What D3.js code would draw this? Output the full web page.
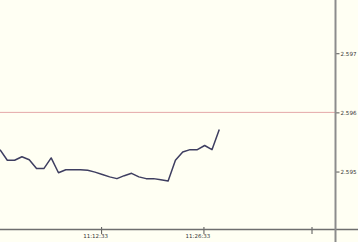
<!DOCTYPE html>
<html><head><meta charset="utf-8">
<script src="https://cdn.jsdelivr.net/npm/d3@7"></script>
<style>html,body{margin:0;padding:0;background:#fffff3;}svg{display:block;}</style>
</head><body><div id="c"></div>
<script>
// data: one price per minute, starting 10:58:43
const startTime = "10:58:43";
const stepSeconds = 60;
const prices = [2.59537,2.59519,2.59519,2.59525,2.59520,2.59505,2.59505,2.59523,2.59498,2.59503,
  2.59503,2.59503,2.59502,2.59499,2.59495,2.59491,2.59488,2.59493,2.59497,2.59491,
  2.59488,2.59488,2.59486,2.59484,2.59519,2.59533,2.59537,2.59537,2.59544,2.59537,2.59571];
const refValue = 2.596;
const yTicks = [2.597, 2.596, 2.595];
const xTickTimes = ["11:12:33", "11:26:33", "11:41:20"];
const xTickLabels = ["11:12:33", "11:26:33", ""];
const xDomainTimes = ["10:58:43", "11:44:37"];
const yDomain = [2.59402, 2.59790];

const W = 358, H = 242;
const plotR = 335.5, plotB = 229.5;
const parse = d3.timeParse("%H:%M:%S");
const t0 = parse(startTime);
const data = prices.map((v, i) => ({t: new Date(t0.getTime() + i * stepSeconds * 1000), v}));

const x = d3.scaleTime().domain(xDomainTimes.map(parse)).range([0, plotR]);
const y = d3.scaleLinear().domain(yDomain).range([plotB, 0]);

const svg = d3.select("#c").append("svg").attr("width", W).attr("height", H);
svg.append("rect").attr("width", W).attr("height", H).attr("fill", "#fffff3");

// reference line
svg.append("line").attr("x1", 0).attr("x2", plotR).attr("y1", y(refValue)).attr("y2", y(refValue))
  .attr("stroke", "#e4a8a8").attr("stroke-width", 1);

// price line
svg.append("path").datum(data)
  .attr("fill", "none").attr("stroke", "#3e3e60").attr("stroke-width", 1.5)
  .attr("stroke-linejoin", "round")
  .attr("d", d3.line().x(d => x(d.t)).y(d => y(d.v)));

// x axis
const xa = svg.append("g").attr("transform", `translate(0,${plotB})`)
  .call(d3.axisBottom(x).tickValues(xTickTimes.map(parse)).tickSize(0)
    .tickFormat((d, i) => xTickLabels[i]));
xa.select(".domain").remove();
xa.append("line").attr("x1", 0).attr("x2", W).attr("stroke", "#6e6e6e").attr("stroke-width", 1.5);
xa.selectAll(".tick line").attr("y1", -2.5).attr("y2", 4.5).attr("stroke", "#555").attr("stroke-width", 1);
xa.selectAll(".tick text").attr("y", 8.5).attr("dx", -6).attr("dy", 0)
  .attr("font-family", "DejaVu Sans, sans-serif").attr("font-size", 5.5).attr("fill", "#333");

// y axis on the right
const ya = svg.append("g").attr("transform", `translate(${plotR},0)`)
  .call(d3.axisRight(y).tickValues(yTicks).tickSize(4).tickPadding(1).tickFormat(d3.format(".3f")));
ya.select(".domain").remove();
ya.append("line").attr("y1", 0).attr("y2", H).attr("stroke", "#8c8c8c").attr("stroke-width", 2);
ya.selectAll(".tick line").attr("stroke", "#555");
ya.selectAll(".tick text").attr("font-family", "DejaVu Sans, sans-serif").attr("font-size", 5.6).attr("fill", "#333");
</script></body></html>
